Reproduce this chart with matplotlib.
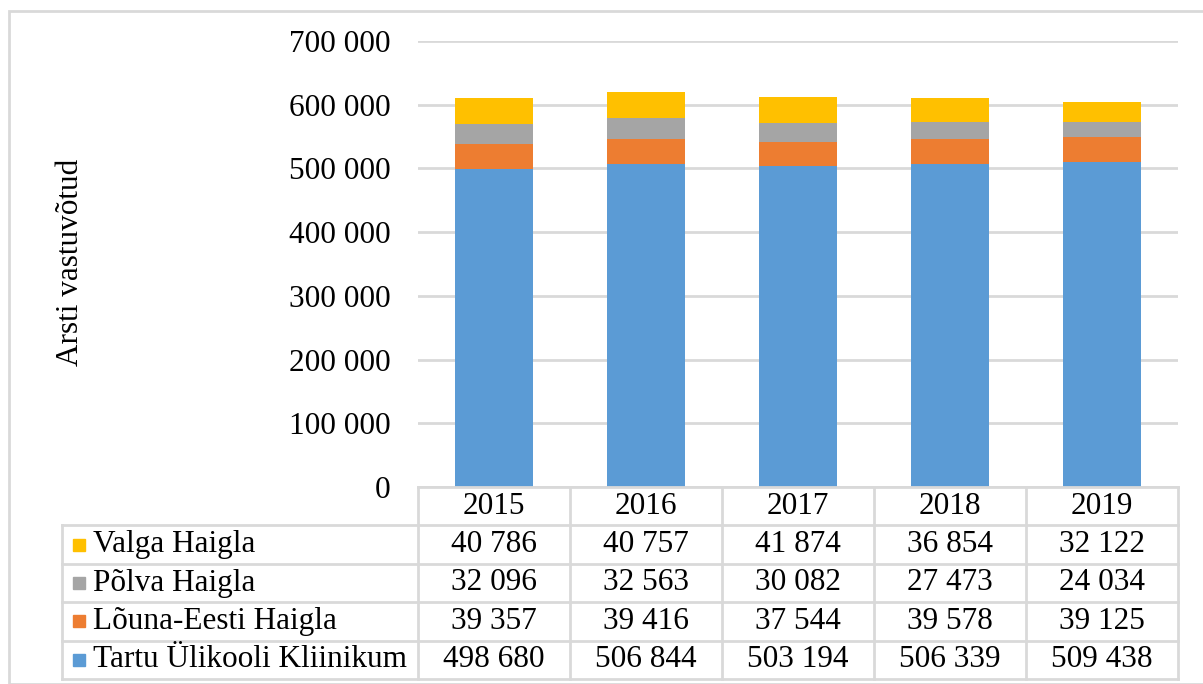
import matplotlib
matplotlib.use("Agg")
import matplotlib.pyplot as plt
from matplotlib.ticker import FuncFormatter
from matplotlib.patches import Rectangle

years = ["2015", "2016", "2017", "2018", "2019"]
tartu = [498680, 506844, 503194, 506339, 509438]
louna = [39357, 39416, 37544, 39578, 39125]
polva = [32096, 32563, 30082, 27473, 24034]
valga = [40786, 40757, 41874, 36854, 32122]

series_names = ["Tartu Ülikooli Kliinikum", "Lõuna-Eesti Haigla", "Põlva Haigla", "Valga Haigla"]
series_vals = [tartu, louna, polva, valga]
colors = ["#5B9BD5", "#ED7D31", "#A5A5A5", "#FFC000"]

GRID = "#D9D9D9"
W, H = 1203, 684
plt.rcParams["font.family"] = ["Liberation Serif", "DejaVu Serif"]
FS = 22.5


def fmt(v, pos=None):
    return f"{v:,.0f}".replace(",", " ")


fig = plt.figure(figsize=(W / 100, H / 100), dpi=100)

# outer frame
fig.patches.append(Rectangle((9 / W, 0), 1.1, 1 - 11 / H, transform=fig.transFigure,
                             fill=False, edgecolor=GRID, lw=2))

x0, x1 = 418 / W, 1178 / W
ax = fig.add_axes([x0, 1 - 487 / H, x1 - x0, (487 - 41) / H])
xs = list(range(len(years)))
bottom = [0] * len(years)
for vals, c in zip(series_vals, colors):
    ax.bar(xs, vals, 0.51, bottom=bottom, color=c, zorder=3)
    bottom = [b + v for b, v in zip(bottom, vals)]

ax.set_xlim(-0.5, len(years) - 0.5)
ax.set_ylim(0, 700000)
ax.set_yticks(range(0, 700001, 100000))
ax.yaxis.set_major_formatter(FuncFormatter(fmt))
ax.tick_params(axis="y", length=0, pad=20, labelsize=FS)
ax.set_xticks([])
ax.grid(axis="y", color=GRID, lw=2, zorder=0)
for s in ax.spines.values():
    s.set_visible(False)

fig.text(70 / W, 1 - 262 / H, "Arsti vastuvõtud", rotation=90, ha="center", va="center", fontsize=FS)

# data table
tab = fig.add_axes([x0, 1 - 679 / H, x1 - x0, (679 - 487) / H])
tab.set_xlim(-0.5, len(years) - 0.5)
tab.set_ylim(0, 5)
tab.axis("off")
col_w = (x1 - x0) * W / len(years)
left = -0.5 - (418 - 62) / col_w
n = len(years)

kw = dict(color=GRID, lw=2, clip_on=False)
# header row
tab.plot([-0.5, n - 0.5], [5, 5], **kw)
for i in range(n + 1):
    tab.plot([i - 0.5, i - 0.5], [0, 5], **kw)
for r in range(5):
    tab.plot([left, n - 0.5], [r, r], **kw)
tab.plot([left, left], [0, 4], **kw)

for i, y in enumerate(years):
    tab.text(i, 4.5, y, ha="center", va="center", fontsize=FS)

sq_x = -0.5 - (418 - 79) / col_w
tx = -0.5 - (418 - 93) / col_w
for r, (name, vals, c) in enumerate(zip(series_names, series_vals, colors)):
    yc = r + 0.5
    tab.plot([sq_x], [yc], marker="s", ms=9, color=c, clip_on=False, ls="none")
    tab.text(tx, yc, name, ha="left", va="center", fontsize=FS)
    for i, v in enumerate(vals):
        tab.text(i, yc, fmt(v), ha="center", va="center", fontsize=FS)

fig.savefig("out.png", dpi=100)
